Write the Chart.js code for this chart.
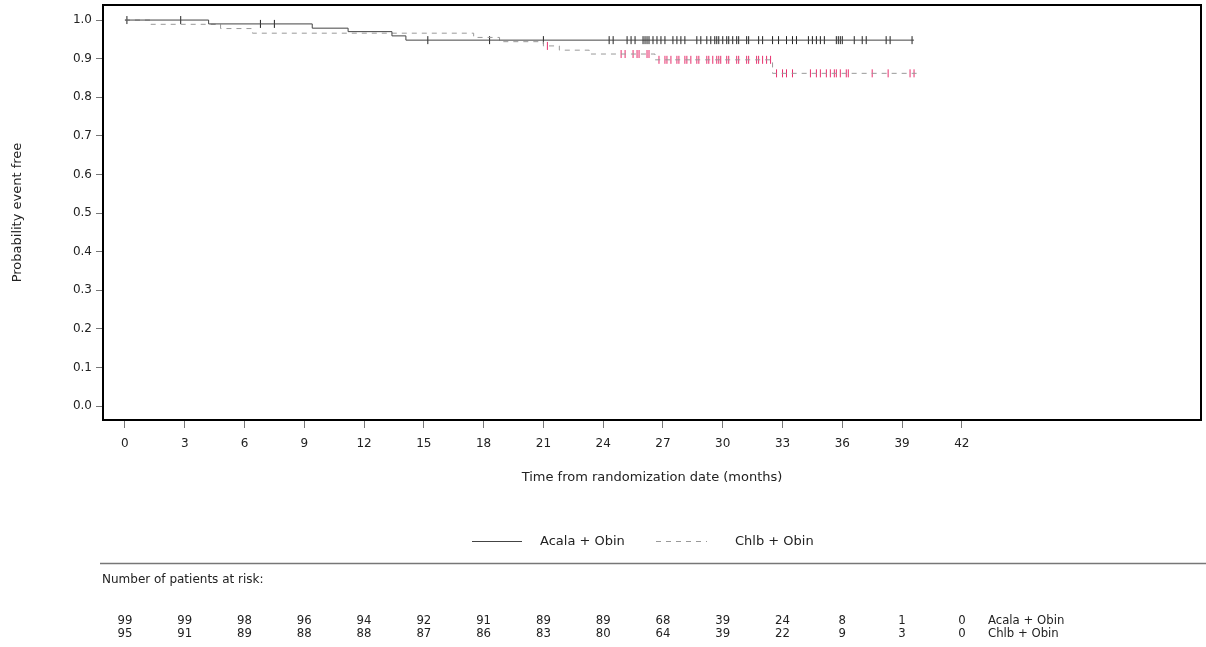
<!DOCTYPE html>
<html>
<head>
<meta charset="utf-8">
<script src="https://cdn.jsdelivr.net/npm/chart.js@4/dist/chart.umd.min.js"></script>
<style>
  html, body { margin: 0; padding: 0; background: #fff; }
  canvas { display: block; }
</style>
</head>
<body>
<canvas id="kmChart" width="1206" height="647"></canvas>
<script>
// x axis ticks (months) and y axis ticks (probability)
const xTicks = [0, 3, 6, 9, 12, 15, 18, 21, 24, 27, 30, 33, 36, 39, 42];
const yTicks = [0, 0.1, 0.2, 0.3, 0.4, 0.5, 0.6, 0.7, 0.8, 0.9, 1.0];

// Kaplan-Meier steps
const acalaTimes = [0, 4.2, 9.4, 11.2, 13.4, 14.1, 39.6];
const acalaSurv = [1.0, 0.990, 0.979, 0.970, 0.959, 0.948, 0.948];
const chlbTimes = [0, 1.3, 4.8, 6.4, 17.5, 18.8, 21.0, 21.8, 23.3, 26.6, 32.5, 39.8];
const chlbSurv = [1.0, 0.989, 0.978, 0.966, 0.955, 0.944, 0.933, 0.922, 0.912, 0.897, 0.862, 0.862];

// censored observations (months)
const acalaCensor = [0.1, 2.8, 6.8, 7.5, 15.2, 18.3, 21.0, 24.3, 24.5, 25.2, 25.4, 25.6, 26.0, 26.1, 26.2,
  26.3, 26.5, 26.7, 26.9, 27.1, 27.5, 27.7, 27.9, 28.1, 28.7, 28.9, 29.2, 29.4, 29.6, 29.7, 29.8, 30.0,
  30.2, 30.3, 30.5, 30.7, 30.8, 31.2, 31.3, 31.8, 32.0, 32.5, 32.8, 33.2, 33.5, 33.7, 34.3, 34.5, 34.7,
  34.9, 35.1, 35.7, 35.8, 35.9, 36.0, 36.6, 37.0, 37.2, 38.2, 38.4, 39.5];
const chlbCensor = [21.2, 24.9, 25.1, 25.5, 25.7, 25.8, 26.2, 26.3, 26.8, 27.1, 27.2, 27.4, 27.7, 27.8,
  28.1, 28.2, 28.4, 28.7, 28.8, 29.2, 29.3, 29.5, 29.7, 29.8, 29.9, 30.2, 30.3, 30.7, 30.8, 31.2, 31.3,
  31.7, 31.8, 32.0, 32.2, 32.4, 32.7, 33.0, 33.2, 33.5, 34.4, 34.7, 34.9, 35.2, 35.4, 35.6, 35.7, 35.9,
  36.2, 36.3, 37.5, 38.3, 39.4, 39.6];

// number at risk at each x tick
const acalaRisk = [99, 99, 98, 96, 94, 92, 91, 89, 89, 68, 39, 24, 8, 1, 0];
const chlbRisk = [95, 91, 89, 88, 88, 87, 86, 83, 80, 64, 39, 22, 9, 3, 0];

const seriesNames = ['Acala + Obin', 'Chlb + Obin'];

const FONT = '"DejaVu Sans", sans-serif';
const TEXT = '#222';

const survAt = (times, surv, t) => {
  let i = 0;
  while (i + 1 < times.length && times[i + 1] <= t) i++;
  return surv[i];
};

const steps = (times, surv) => times.map((t, i) => ({ x: t, y: surv[i] }));
const marks = (cens, times, surv) => cens.map(t => ({ x: t, y: survAt(times, surv, t) }));

// frame, titles, legend and risk table
const extras = {
  id: 'extras',
  afterDraw(chart) {
    const { ctx, chartArea: a, scales: { x } } = chart;
    ctx.save();
    ctx.strokeStyle = '#000';
    ctx.lineWidth = 2;
    ctx.strokeRect(a.left, a.top, a.right - a.left, a.bottom - a.top);

    ctx.fillStyle = TEXT;
    ctx.font = '13px ' + FONT;
    ctx.textAlign = 'center';
    ctx.textBaseline = 'middle';
    ctx.fillText('Time from randomization date (months)', (a.left + a.right) / 2, 478);

    ctx.save();
    ctx.translate(18, (a.top + a.bottom) / 2);
    ctx.rotate(-Math.PI / 2);
    ctx.fillText('Probability event free', 0, 0);
    ctx.restore();

    // legend
    ctx.lineWidth = 1;
    ctx.strokeStyle = '#444';
    ctx.beginPath(); ctx.moveTo(472, 541.5); ctx.lineTo(522, 541.5); ctx.stroke();
    ctx.strokeStyle = '#999';
    ctx.setLineDash([5, 5]);
    ctx.beginPath(); ctx.moveTo(656, 541.5); ctx.lineTo(707, 541.5); ctx.stroke();
    ctx.setLineDash([]);
    ctx.textAlign = 'left';
    ctx.fillText(seriesNames[0], 540, 542);
    ctx.fillText(seriesNames[1], 735, 542);

    ctx.strokeStyle = '#777';
    ctx.lineWidth = 1.5;
    ctx.beginPath(); ctx.moveTo(100, 563.5); ctx.lineTo(1206, 563.5); ctx.stroke();

    // risk table
    ctx.font = '12px ' + FONT;
    ctx.fillText('Number of patients at risk:', 102, 580);
    ctx.font = '13px "DejaVu Sans Condensed", ' + FONT;
    ctx.textAlign = 'center';
    xTicks.forEach((t, i) => {
      const px = x.getPixelForValue(t);
      ctx.fillText(String(acalaRisk[i]), px, 621);
      ctx.fillText(String(chlbRisk[i]), px, 634);
    });
    ctx.textAlign = 'left';
    ctx.fillText(seriesNames[0], 988, 621);
    ctx.fillText(seriesNames[1], 988, 634);
    ctx.restore();
  }
};

new Chart(document.getElementById('kmChart'), {
  type: 'line',
  data: {
    datasets: [
      {
        label: seriesNames[0],
        data: steps(acalaTimes, acalaSurv),
        stepped: true,
        borderColor: '#444',
        borderWidth: 1,
        pointRadius: 0
      },
      {
        label: seriesNames[1],
        data: steps(chlbTimes, chlbSurv),
        stepped: true,
        borderColor: '#999',
        borderDash: [5, 5],
        borderWidth: 1,
        pointRadius: 0
      },
      {
        type: 'scatter',
        label: seriesNames[0] + ' censored',
        data: marks(acalaCensor, acalaTimes, acalaSurv),
        pointStyle: 'line',
        rotation: 90,
        pointRadius: 4,
        borderColor: '#222',
        borderWidth: 1
      },
      {
        type: 'scatter',
        label: seriesNames[1] + ' censored',
        data: marks(chlbCensor, chlbTimes, chlbSurv),
        pointStyle: 'line',
        rotation: 90,
        pointRadius: 4,
        borderColor: '#e8306e',
        borderWidth: 1
      }
    ]
  },
  options: {
    responsive: false,
    animation: false,
    devicePixelRatio: 1,
    layout: { padding: { top: 5, right: 3, left: 0, bottom: 0 } },
    plugins: { legend: { display: false }, tooltip: { enabled: false } },
    scales: {
      x: {
        type: 'linear',
        min: -1.1,
        max: 54,
        afterBuildTicks: s => { s.ticks = xTicks.map(v => ({ value: v })); },
        afterFit: s => { s.height = 227; s.paddingLeft = 0; s.paddingRight = 0; },
        ticks: { font: { family: FONT, size: 12 }, color: TEXT, padding: 9, maxRotation: 0, autoSkip: false },
        grid: { drawOnChartArea: false, tickLength: 8, color: '#777' },
        border: { display: false }
      },
      y: {
        min: -0.036,
        max: 1.039,
        afterBuildTicks: s => { s.ticks = yTicks.map(v => ({ value: v })); },
        afterFit: s => { s.width = 103; s.paddingTop = 0; s.paddingBottom = 0; },
        ticks: { font: { family: FONT, size: 12 }, color: TEXT, padding: 4, callback: v => v.toFixed(1) },
        grid: { drawOnChartArea: false, tickLength: 7, color: '#777' },
        border: { display: false }
      }
    }
  },
  plugins: [extras]
});
</script>
</body>
</html>
